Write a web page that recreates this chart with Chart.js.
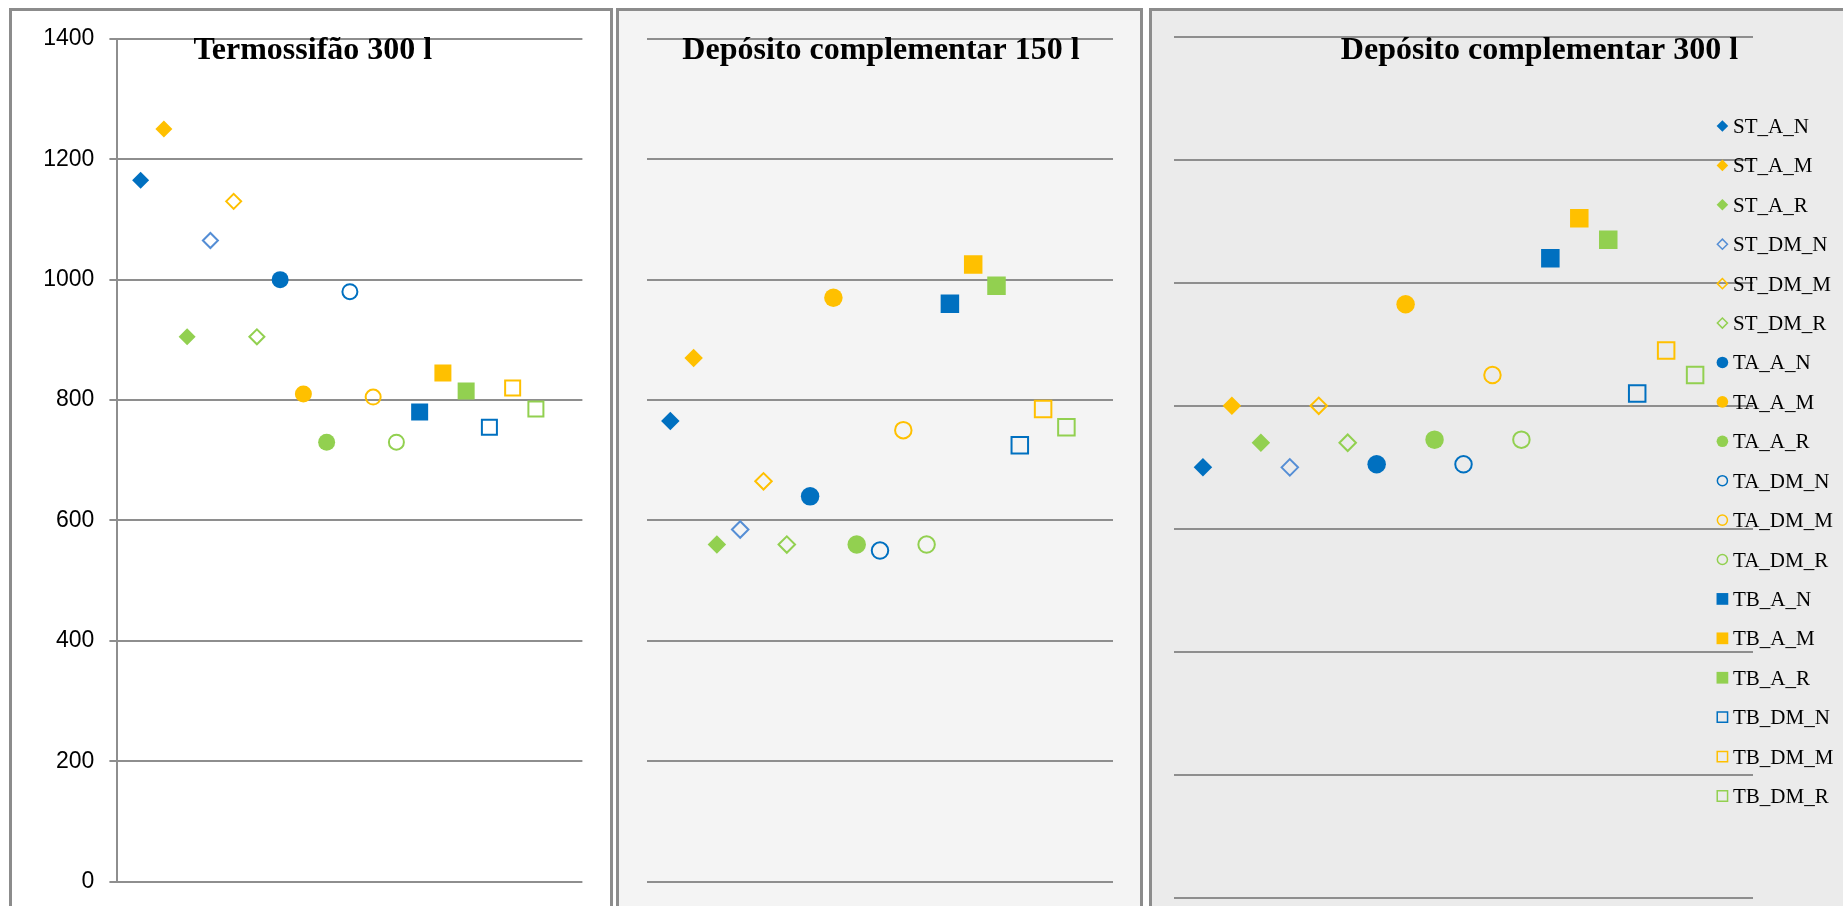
<!DOCTYPE html>
<html>
<head>
<meta charset="utf-8">
<title>Termossifão vs depósito complementar</title>
<script src="https://cdn.jsdelivr.net/npm/chart.js@4.4.1/dist/chart.umd.min.js"></script>
<style>
  html, body { margin: 0; padding: 0; width: 1843px; height: 906px; overflow: hidden; background: #fff; }
  .panel { position: absolute; top: 8px; height: 920px; box-sizing: border-box;
           border: 3px solid #8c8c8c; border-bottom: none; }
  #p1 { left: 9px; width: 604px; background: #ffffff; }
  #p2 { left: 616px; width: 527px; background: #f4f4f4; }
  #p3 { left: 1149px; width: 900px; background: #ebebeb; }
  .panel canvas { position: absolute; left: 0; top: 0; }
</style>
</head>
<body>
<div class="panel" id="p1"><canvas id="c1" width="598" height="895"></canvas></div>
<div class="panel" id="p2"><canvas id="c2" width="521" height="895"></canvas></div>
<div class="panel" id="p3"><canvas id="c3" width="691" height="895"></canvas></div>
<script>
// series (one point each), same order in all three panels
const seriesNames = [
    'ST_A_N', 'ST_A_M', 'ST_A_R', 'ST_DM_N', 'ST_DM_M', 'ST_DM_R',
    'TA_A_N', 'TA_A_M', 'TA_A_R', 'TA_DM_N', 'TA_DM_M', 'TA_DM_R',
    'TB_A_N', 'TB_A_M', 'TB_A_R', 'TB_DM_N', 'TB_DM_M', 'TB_DM_R'
];
const xValues = [1, 2, 3, 4, 5, 6, 7, 8, 9, 10, 11, 12, 13, 14, 15, 16, 17, 18];

const termossifao300 = [1165, 1250, 905, 1065, 1130, 905, 1000, 810, 730, 980, 805, 730, 780, 845, 815, 755, 820, 785];
const deposito150 = [765, 870, 560, 585, 665, 560, 640, 970, 560, 550, 750, 560, 960, 1025, 990, 725, 785, 755];
const deposito300 = [700, 800, 740, 700, 800, 740, 705, 965, 745, 705, 850, 745, 1040, 1105, 1070, 820, 890, 850];

const yTicks = [0, 200, 400, 600, 800, 1000, 1200, 1400];

// marker styles
const BLUE = '#0070C0', ORANGE = '#FFC000', GREEN = '#92D050', LIGHTBLUE = '#558ED5';
const colors = [
    BLUE, ORANGE, GREEN, LIGHTBLUE, ORANGE, GREEN,
    BLUE, ORANGE, GREEN, BLUE, ORANGE, GREEN,
    BLUE, ORANGE, GREEN, BLUE, ORANGE, GREEN
];
const pointStyles = [
    'rectRot', 'rectRot', 'rectRot', 'rectRot', 'rectRot', 'rectRot',
    'circle', 'circle', 'circle', 'circle', 'circle', 'circle',
    'rect', 'rect', 'rect', 'rect', 'rect', 'rect'
];
const filled = [true, true, true, false, false, false,
                true, true, true, false, false, false,
                true, true, true, false, false, false];

const GRID = '#8e8e8e';

function markerRadius(style, size, isFilled) {
    let r = style === 'rect' ? size / Math.SQRT2 : size / 2;
    if (!isFilled) r -= style === 'rect' ? 1.4 : 1;
    return r;
}

function makeDatasets(values, size) {
    return seriesNames.map(function (name, i) {
        return {
            label: name,
            data: [{ x: xValues[i], y: values[i] }],
            showLine: false,
            pointStyle: pointStyles[i],
            pointRadius: markerRadius(pointStyles[i], size, filled[i]),
            pointHoverRadius: markerRadius(pointStyles[i], size, filled[i]),
            pointBorderWidth: filled[i] ? 0 : 2,
            pointBorderColor: colors[i],
            pointBackgroundColor: filled[i] ? colors[i] : 'rgba(0,0,0,0)'
        };
    });
}

// panel title drawn on top of the first gridline, like the original
const panelTitle = {
    id: 'panelTitle',
    afterDraw: function (chart, args, opts) {
        const ctx = chart.ctx;
        ctx.save();
        ctx.font = 'bold 32px "Liberation Serif", "Times New Roman", serif';
        ctx.fillStyle = '#000';
        ctx.textAlign = 'center';
        ctx.textBaseline = 'alphabetic';
        ctx.fillText(opts.text, opts.x, opts.y);
        ctx.restore();
    }
};

// legend listing all series, overlapping the right edge of the last plot
const sideLegend = {
    id: 'sideLegend',
    afterDraw: function (chart, args, opts) {
        if (!opts.show) return;
        const ctx = chart.ctx;
        const area = chart.chartArea;
        const mx = area.right - 30.6;
        const step = 39.41;
        ctx.save();
        ctx.font = '21px "Liberation Serif", "Times New Roman", serif';
        ctx.textAlign = 'left';
        ctx.textBaseline = 'alphabetic';
        seriesNames.forEach(function (name, i) {
            const y = opts.top + i * step;
            const st = pointStyles[i];
            let r = st === 'rect' ? 8.3 : 5.8;
            if (!filled[i]) r -= st === 'rect' ? 1 : 0.75;
            ctx.beginPath();
            if (st === 'circle') {
                ctx.arc(mx, y, r, 0, Math.PI * 2);
            } else if (st === 'rectRot') {
                ctx.moveTo(mx - r, y);
                ctx.lineTo(mx, y - r);
                ctx.lineTo(mx + r, y);
                ctx.lineTo(mx, y + r);
                ctx.closePath();
            } else {
                const s = r * Math.SQRT1_2;
                ctx.rect(mx - s, y - s, 2 * s, 2 * s);
            }
            if (filled[i]) {
                ctx.fillStyle = colors[i];
                ctx.fill();
            } else {
                ctx.strokeStyle = colors[i];
                ctx.lineWidth = 1.5;
                ctx.stroke();
            }
            ctx.fillStyle = '#000';
            ctx.fillText(name, mx + 10.6, y + 7);
        });
        ctx.restore();
    }
};

function makeChart(canvasId, values, cfg) {
    return new Chart(document.getElementById(canvasId), {
        type: 'scatter',
        data: { datasets: makeDatasets(values, cfg.markerSize) },
        options: {
            responsive: false,
            animation: false,
            layout: { padding: cfg.padding, autoPadding: false },
            plugins: {
                legend: { display: false },
                title: { display: false },
                tooltip: { enabled: false },
                panelTitle: cfg.title,
                sideLegend: { show: !!cfg.legend, top: cfg.legendTop }
            },
            scales: {
                x: { type: 'linear', min: 0, max: 20, display: false },
                y: {
                    type: 'linear',
                    min: 0,
                    max: 1400,
                    afterBuildTicks: function (scale) {
                        scale.ticks = yTicks.map(function (v) { return { value: v }; });
                    },
                    afterFit: function (scale) {
                        // fixed axis width; labels may overhang the plot edges
                        scale.width = cfg.axisWidth;
                        scale.paddingTop = 0;
                        scale.paddingBottom = 0;
                    },
                    grid: {
                        color: GRID,
                        lineWidth: 2,
                        drawTicks: cfg.showLabels,
                        tickLength: 8
                    },
                    border: { display: cfg.showLabels, color: GRID, width: 2 },
                    ticks: {
                        display: cfg.showLabels,
                        padding: cfg.showLabels ? 15 : 0,
                        color: '#000',
                        font: { family: '"Liberation Sans", Arial, sans-serif', size: 23 },
                        callback: function (value) { return String(value); }
                    }
                }
            }
        },
        plugins: [panelTitle, sideLegend]
    });
}

makeChart('c1', termossifao300, {
    markerSize: 17,
    padding: { left: 0, right: 27.6, top: 27.8, bottom: 24.3 },
    axisWidth: 105.4,
    showLabels: true,
    title: { text: 'Termossifão 300 l', x: 300.8, y: 48.3 }
});

makeChart('c2', deposito150, {
    markerSize: 18.5,
    padding: { left: 28, right: 27, top: 27.8, bottom: 24.3 },
    axisWidth: 0,
    showLabels: false,
    title: { text: 'Depósito complementar 150 l', x: 262, y: 48.3 }
});

makeChart('c3', deposito300, {
    markerSize: 18.5,
    padding: { left: 22, right: 90, top: 25.7, bottom: 8 },
    axisWidth: 0,
    showLabels: false,
    title: { text: 'Depósito complementar 300 l', x: 387.5, y: 48.3 },
    legend: true,
    legendTop: 115
});
</script>
</body>
</html>
